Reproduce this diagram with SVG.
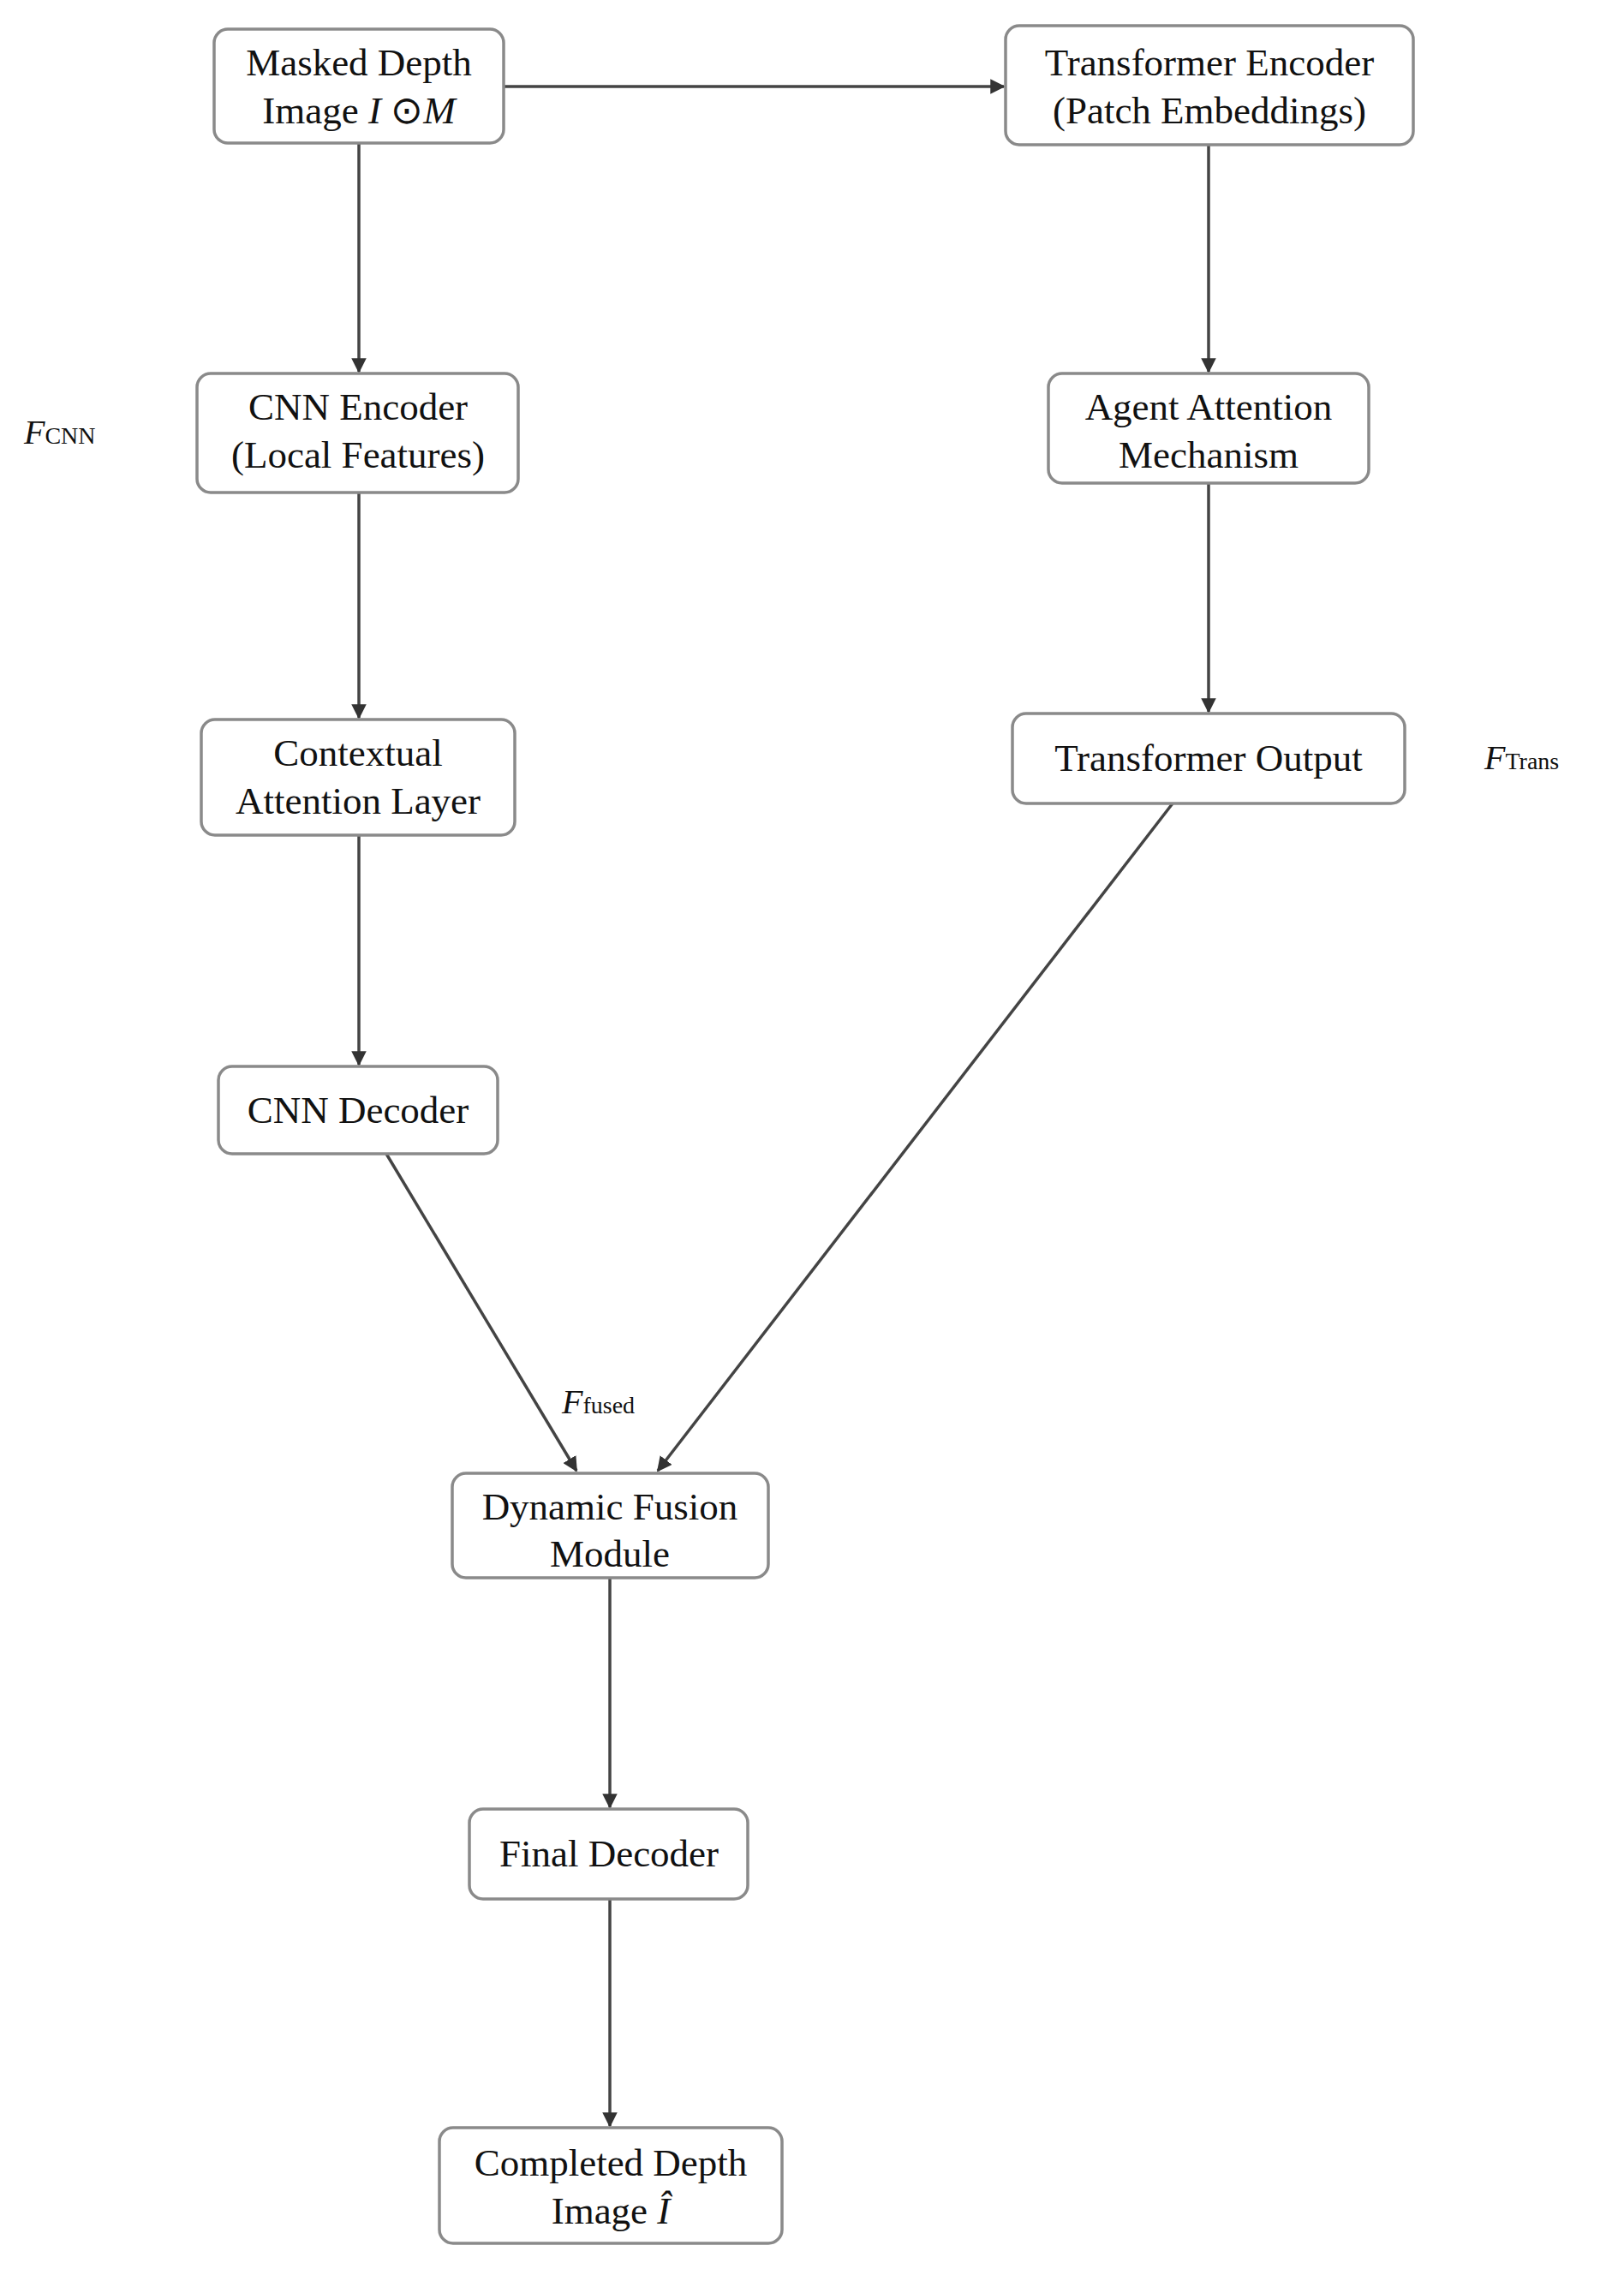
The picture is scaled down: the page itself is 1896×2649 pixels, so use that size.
<svg xmlns="http://www.w3.org/2000/svg" width="1896" height="2649" viewBox="0 0 1896 2649">
<defs>
<marker id="ah" viewBox="0 0 10 10" refX="9" refY="5" markerWidth="5" markerHeight="5" orient="auto"><path d="M0,0 L10,5 L0,10 z" fill="#333"/></marker>
<style>
rect{fill:#fff;stroke:#8a8a8a;stroke-width:3.5}
text{font-family:"Liberation Serif","Times New Roman",serif;font-size:45px;fill:#111;text-anchor:middle}
.lab{font-size:40px;text-anchor:start}
.sub{font-size:28px}
line{stroke:#444;stroke-width:3.5;marker-end:url(#ah)}
</style>
</defs>
<rect x="0" y="0" width="1896" height="2649" style="fill:#fff;stroke:none"/>
<g id="connectors">
<line x1="588" y1="101" x2="1172" y2="101"/>
<line x1="419" y1="167" x2="419" y2="434"/>
<line x1="1411" y1="169" x2="1411" y2="434"/>
<line x1="419" y1="575" x2="419" y2="838"/>
<line x1="1411" y1="564" x2="1411" y2="831"/>
<line x1="419" y1="975" x2="419" y2="1243"/>
<line x1="451" y1="1347" x2="673" y2="1717"/>
<line x1="1369" y1="938" x2="768" y2="1717"/>
<line x1="712" y1="1842" x2="712" y2="2110"/>
<line x1="712" y1="2217" x2="712" y2="2482"/>
</g>
<g id="n1"><rect x="250" y="34" width="338" height="133" rx="16"/><text x="419" y="88">Masked Depth</text><text x="419" y="144">Image <tspan font-style="italic">I</tspan> ⊙<tspan font-style="italic">M</tspan></text></g>
<g id="n2"><rect x="1174" y="30" width="476" height="139" rx="16"/><text x="1412" y="88">Transformer Encoder</text><text x="1412" y="144">(Patch Embeddings)</text></g>
<g id="n3"><rect x="230" y="436" width="375" height="139" rx="16"/><text x="418" y="490">CNN Encoder</text><text x="418" y="546">(Local Features)</text></g>
<g id="n4"><rect x="1224" y="436" width="374" height="128" rx="16"/><text x="1411" y="490">Agent Attention</text><text x="1411" y="546">Mechanism</text></g>
<g id="n5"><rect x="235" y="840" width="366" height="135" rx="16"/><text x="418" y="894">Contextual</text><text x="418" y="950">Attention Layer</text></g>
<g id="n6"><rect x="1182" y="833" width="458" height="105" rx="16"/><text x="1411" y="900">Transformer Output</text></g>
<g id="n7"><rect x="255" y="1245" width="326" height="102" rx="16"/><text x="418" y="1311">CNN Decoder</text></g>
<g id="n8"><rect x="528" y="1720" width="369" height="122" rx="16"/><text x="712" y="1774">Dynamic Fusion</text><text x="712" y="1829">Module</text></g>
<g id="n9"><rect x="548" y="2112" width="325" height="105" rx="16"/><text x="711" y="2179">Final Decoder</text></g>
<g id="n10"><rect x="513" y="2484" width="400" height="135" rx="16"/><text x="713" y="2540">Completed Depth</text><text x="713" y="2596">Image <tspan font-style="italic">Î</tspan></text></g>
<g id="labels">
<text class="lab" x="28" y="518"><tspan font-style="italic">F</tspan><tspan class="sub">CNN</tspan></text>
<text class="lab" x="1733" y="898"><tspan font-style="italic">F</tspan><tspan class="sub">Trans</tspan></text>
<text class="lab" x="656" y="1650"><tspan font-style="italic">F</tspan><tspan class="sub">fused</tspan></text>
</g>
</svg>
